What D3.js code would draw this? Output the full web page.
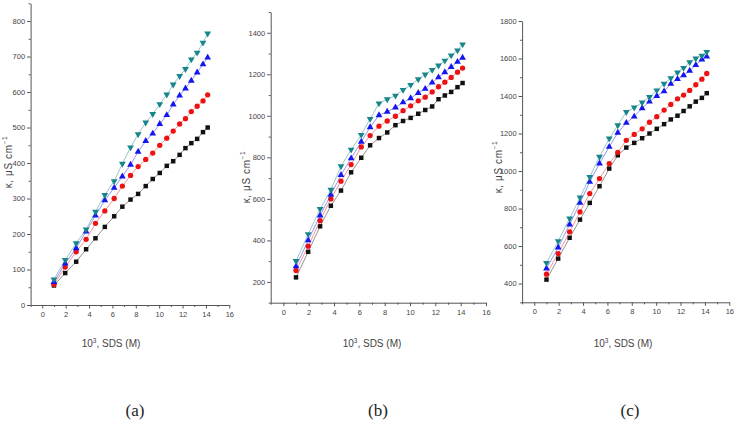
<!DOCTYPE html>
<html>
<head>
<meta charset="utf-8">
<script src="https://cdn.jsdelivr.net/npm/d3@7"></script>
<style>
  html, body { margin: 0; padding: 0; background: #fff; }
  svg { display: block; }
</style>
</head>
<body>
<svg id="chart" width="737" height="434"></svg>
<script>
// ---------- data ----------
const xValues = [1, 1.96, 2.9, 3.75, 4.55, 5.35, 6.15, 6.85, 7.55, 8.2, 8.85, 9.45, 10.05, 10.65, 11.2, 11.75, 12.25, 12.75, 13.25, 13.75, 14.15];

const panelLetters = ["(a)", "(b)", "(c)"];
const seriesNames = ["black", "red", "blue", "teal"];

const aBlack = [55, 90, 122, 157, 188, 220, 250, 277, 297, 313, 335, 355, 372, 392, 405, 423, 442, 456, 468, 487, 500];
const aRed   = [58, 107, 150, 185, 230, 265, 300, 335, 365, 390, 410, 428, 450, 470, 490, 510, 525, 545, 560, 575, 592];
const aBlue  = [65, 117, 160, 207, 252, 295, 330, 362, 395, 432, 462, 483, 510, 535, 565, 590, 610, 632, 655, 678, 697];
const aTeal  = [72, 127, 174, 213, 263, 310, 349, 398, 444, 481, 514, 538, 566, 593, 621, 645, 665, 692, 711, 739, 765];

const bBlack = [222, 345, 468, 567, 640, 728, 798, 858, 893, 920, 955, 975, 990, 1010, 1028, 1045, 1080, 1098, 1115, 1138, 1158];
const bRed   = [255, 372, 495, 600, 685, 765, 850, 905, 950, 975, 998, 1025, 1048, 1072, 1090, 1115, 1140, 1162, 1185, 1210, 1230];
const bBlue  = [275, 400, 520, 620, 715, 795, 875, 945, 1003, 1020, 1040, 1065, 1085, 1110, 1130, 1160, 1185, 1210, 1235, 1260, 1280];
const bTeal  = [301, 430, 551, 644, 757, 837, 908, 985, 1060, 1080, 1097, 1125, 1149, 1176, 1199, 1221, 1242, 1266, 1291, 1315, 1344];

const cBlack = [421, 533, 644, 741, 830, 919, 1013, 1084, 1125, 1150, 1175, 1200, 1225, 1250, 1275, 1295, 1320, 1345, 1370, 1390, 1415];
const cRed   = [450, 560, 676, 782, 880, 960, 1040, 1100, 1164, 1195, 1225, 1260, 1290, 1325, 1355, 1385, 1405, 1430, 1460, 1490, 1520];
const cBlue  = [480, 592, 715, 830, 942, 1040, 1129, 1204, 1257, 1290, 1335, 1370, 1400, 1425, 1465, 1490, 1510, 1535, 1565, 1595, 1610];
const cTeal  = [510, 626, 747, 859, 969, 1076, 1173, 1244, 1315, 1339, 1365, 1395, 1430, 1465, 1495, 1525, 1550, 1580, 1600, 1615, 1635];

const xTicks = [0, 2, 4, 6, 8, 10, 12, 14, 16];
const aYTicks = [0, 100, 200, 300, 400, 500, 600, 700, 800];
const bYTicks = [200, 400, 600, 800, 1000, 1200, 1400];
const cYTicks = [400, 600, 800, 1000, 1200, 1400, 1600, 1800];

// ---------- layout / style ----------
const colors = { black: "#111111", red: "#ee1111", blue: "#1515f0", teal: "#16868a" };
const symbols = { black: d3.symbolSquare, red: d3.symbolCircle, blue: d3.symbolTriangle, teal: d3.symbolTriangle };
const symSize = { black: 20, red: 22, blue: 20, teal: 20 };
const rotate = { black: 0, red: 0, blue: 0, teal: 180 };

const panels = [
  { letter: panelLetters[0], data: [aBlack, aRed, aBlue, aTeal], yTicks: aYTicks,
    xDom: [-1, 16], xRange: [30.6, 229.3], yDom: [0, 850], yRange: [305, 3.3], yMinorStep: 50,
    yLab: [8, 162], xLab: [111, 347], letterPos: [135, 416] },
  { letter: panelLetters[1], data: [bBlack, bRed, bBlue, bTeal], yTicks: bYTicks,
    xDom: [-1, 16], xRange: [270.7, 486], yDom: [100, 1500], yRange: [302.7, 12], yMinorStep: 100,
    yLab: [246, 177], xLab: [372, 347], letterPos: [378, 416] },
  { letter: panelLetters[2], data: [cBlack, cRed, cBlue, cTeal], yTicks: cYTicks,
    xDom: [-1, 16], xRange: [522.1, 729.3], yDom: [300, 1800], yRange: [302.3, 21], yMinorStep: 100,
    yLab: [498, 167], xLab: [623, 347], letterPos: [630, 416] }
];

const svg = d3.select("#chart");
const axisColor = "#555";
const tickFont = "'Liberation Sans Narrow', 'Liberation Sans', Arial, sans-serif";

panels.forEach(p => {
  const x = d3.scaleLinear().domain(p.xDom).range(p.xRange);
  const y = d3.scaleLinear().domain(p.yDom).range(p.yRange);
  const g = svg.append("g");

  const xMinor = d3.range(p.xDom[0], p.xDom[1] + 0.001, 1).filter(v => !xTicks.includes(v));
  const yMinor = d3.range(p.yDom[0], p.yDom[1] + 0.001, p.yMinorStep).filter(v => !p.yTicks.includes(v));

  g.append("g").attr("transform", `translate(0,${p.yRange[0]})`)
    .call(d3.axisBottom(x).tickValues(xTicks).tickFormat(d3.format("d")).tickSize(3.5).tickSizeOuter(0).tickPadding(3));
  g.append("g").attr("transform", `translate(0,${p.yRange[0]})`)
    .call(d3.axisBottom(x).tickValues(xMinor).tickSize(2).tickSizeOuter(0).tickFormat(""))
    .select(".domain").remove();

  g.append("g").attr("transform", `translate(${p.xRange[0]},0)`)
    .call(d3.axisLeft(y).tickValues(p.yTicks).tickFormat(d3.format("d")).tickSize(3.5).tickSizeOuter(0).tickPadding(2));
  g.append("g").attr("transform", `translate(${p.xRange[0]},0)`)
    .call(d3.axisLeft(y).tickValues(yMinor).tickSize(2).tickSizeOuter(0).tickFormat(""))
    .select(".domain").remove();

  g.selectAll(".domain, .tick line").attr("stroke", axisColor).attr("stroke-width", 1);
  g.selectAll(".tick text").attr("fill", "#444").attr("font-size", 7.5).attr("font-family", tickFont);

  p.data.forEach((vals, si) => {
    const name = seriesNames[si];
    const pts = xValues.map((xv, i) => [xv, vals[i]]);
    g.append("path")
      .datum(pts)
      .attr("fill", "none")
      .attr("stroke", colors[name])
      .attr("stroke-opacity", 0.5)
      .attr("stroke-width", 0.9)
      .attr("d", d3.line().x(d => x(d[0])).y(d => y(d[1])));
    g.selectAll(null).data(pts).enter().append("path")
      .attr("d", d3.symbol().type(symbols[name]).size(symSize[name]))
      .attr("transform", d => `translate(${x(d[0])},${y(d[1])}) rotate(${rotate[name]})`)
      .attr("fill", colors[name]);
  });

  const yl = g.append("text")
    .attr("transform", `translate(${p.yLab[0]},${p.yLab[1]}) rotate(-90)`)
    .attr("text-anchor", "middle").attr("dominant-baseline", "central")
    .attr("font-family", "'Liberation Sans', Arial, sans-serif").attr("font-size", 10)
    .attr("letter-spacing", 0.6).attr("fill", "#444");
  yl.append("tspan").text("\u03BA, \u03BCS cm");
  yl.append("tspan").attr("dy", -4).attr("font-size", 6.5).text("\u22121");

  const xl = g.append("text")
    .attr("x", p.xLab[0]).attr("y", p.xLab[1])
    .attr("text-anchor", "middle")
    .attr("font-family", tickFont).attr("font-size", 10).attr("fill", "#444");
  xl.append("tspan").text("10");
  xl.append("tspan").attr("dy", -4).attr("font-size", 6.5).text("3");
  xl.append("tspan").attr("dy", 4).text(", SDS (M)");

  g.append("text")
    .attr("x", p.letterPos[0]).attr("y", p.letterPos[1])
    .attr("text-anchor", "middle")
    .attr("font-family", "'Liberation Serif', 'Times New Roman', serif")
    .attr("font-size", 17).attr("fill", "#222")
    .text(p.letter);
});
</script>
</body>
</html>
